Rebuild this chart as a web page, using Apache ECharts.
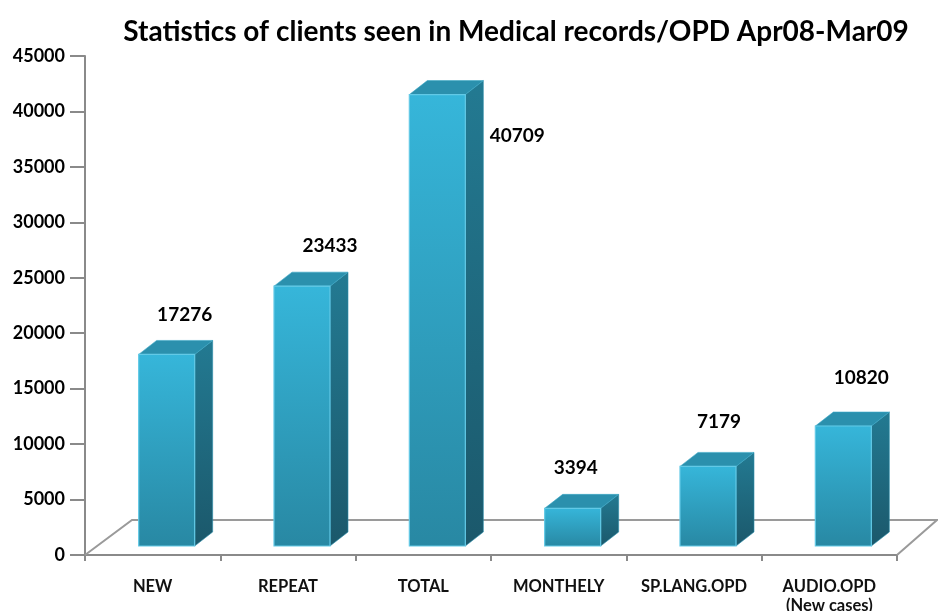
<!DOCTYPE html>
<html><head><meta charset="utf-8">
<script src="https://cdn.jsdelivr.net/npm/echarts@6/dist/echarts.min.js"></script>
<style>html,body{margin:0;padding:0;background:#fff}#c{width:938px;height:611px}</style>
</head><body><div id="c"></div>
<script>
// ---- data ----
const titleText = 'Statistics of clients seen in Medical records/OPD Apr08-Mar09';
const categories = ['NEW', 'REPEAT', 'TOTAL', 'MONTHELY', 'SP.LANG.OPD', 'AUDIO.OPD\n(New cases)'];
const values = [17276, 23433, 40709, 3394, 7179, 10820];
const yMin = 0, yMax = 45000, yStep = 5000;

// ---- styling (positions of the value labels relative to bar top front centre) ----
const labelShift = [[18, -40], [28, -40], [80, 41], [3, -40], [11, -45], [18, -48]];
const BAR_W = 56, OFF_X = 14, OFF_Y = -9, DX = 18, DY = -14;
const FONT = 'Lato, "Open Sans", sans-serif';

const chart = echarts.init(document.getElementById('c'), null, {renderer: 'canvas'});

function renderBar(params, api) {
  const i = api.value(0), v = api.value(1);
  const base = api.coord([i, 0]);
  const top = api.coord([i, v]);
  const cx = base[0] + OFF_X;
  const yb = base[1] + OFF_Y, yt = top[1] + OFF_Y;
  const x0 = cx - BAR_W / 2, x1 = cx + BAR_W / 2;
  const sh = labelShift[params.dataIndex];
  return {
    type: 'group',
    children: [
      { type: 'polygon', shape: { points: [[x1, yt], [x1 + DX, yt + DY], [x1 + DX, yb + DY], [x1, yb]] },
        style: { fill: new echarts.graphic.LinearGradient(0, 0, 0, 1, [{offset: 0, color: '#237a92'}, {offset: 1, color: '#1b586b'}]),
                 stroke: '#2c8fab', lineWidth: 0.6 } },
      { type: 'polygon', shape: { points: [[x0, yt], [x0 + DX, yt + DY], [x1 + DX, yt + DY], [x1, yt]] },
        style: { fill: '#2b90ad', stroke: '#3aa7c6', lineWidth: 0.6 } },
      { type: 'rect', shape: { x: x0, y: yt, width: BAR_W, height: yb - yt },
        style: { fill: new echarts.graphic.LinearGradient(0, 0, 0, 1, [{offset: 0, color: '#36b6da'}, {offset: 1, color: '#2888a3'}]),
                 stroke: '#62c9e6', lineWidth: 1.2 } },
      { type: 'text', x: cx + sh[0], y: yt + sh[1],
        style: { text: String(v), fill: '#000', font: 'bold 19px ' + FONT, align: 'center', verticalAlign: 'middle' } }
    ]
  };
}

function renderFloor(params, api) {
  const c0 = api.coord([0, 0]);
  const bw = api.size([1, 0])[0];
  const left = c0[0] - bw / 2, right = left + bw * categories.length;
  const y0 = c0[1];
  return {
    type: 'polyline',
    shape: { points: [[left, y0], [left + 47, y0 - 35], [right + 40, y0 - 35], [right, y0]] },
    style: { stroke: '#9a9a9a', lineWidth: 2, fill: null }
  };
}

chart.setOption({
  backgroundColor: '#fff',
  animation: false,
  title: {
    text: titleText, left: 511, top: 13, textAlign: 'center',
    textStyle: { fontFamily: FONT, fontWeight: 'bold', fontSize: 28, color: '#000' }
  },
  grid: { left: 85, right: 41, top: 56, bottom: 56, containLabel: false, outerBoundsMode: 'none' },
  xAxis: {
    type: 'category', data: categories, boundaryGap: true,
    axisLine: { lineStyle: { color: '#8a8a8a', width: 2 } },
    axisTick: { show: true, length: 6, lineStyle: { color: '#8a8a8a', width: 2 } },
    axisLabel: { margin: 22, color: '#111', fontFamily: FONT, fontWeight: 'bold', fontSize: 16.5, lineHeight: 19, interval: 0 }
  },
  yAxis: {
    type: 'value', min: yMin, max: yMax, interval: yStep,
    axisLine: { show: true, lineStyle: { color: '#8a8a8a', width: 2 } },
    axisTick: { show: true, length: 15, lineStyle: { color: '#8a8a8a', width: 2 } },
    splitLine: { show: false },
    axisLabel: { margin: 20, color: '#000', fontFamily: FONT, fontWeight: 'bold', fontSize: 18, formatter: v => String(v) }
  },
  series: [
    { type: 'custom', renderItem: renderFloor, data: [[0, 0]], clip: false, z: 1, silent: true },
    { type: 'custom', renderItem: renderBar, data: values.map((v, i) => [i, v]), clip: false, z: 2,
      encode: { x: 0, y: 1 } }
  ]
});
</script></body></html>
